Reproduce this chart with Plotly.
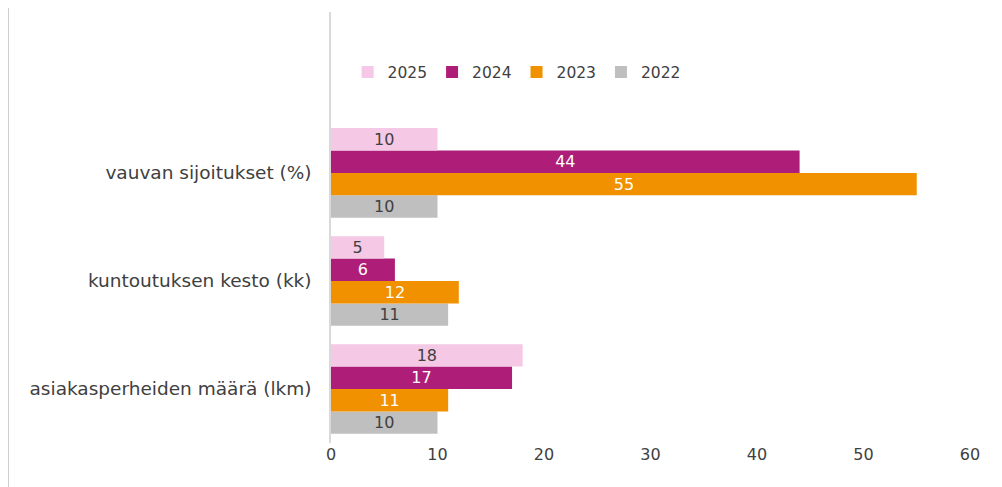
import plotly.graph_objects as go

categories = ["asiakasperheiden määrä (lkm)", "kuntoutuksen kesto (kk)", "vauvan sijoitukset (%)"]
years = ["2022", "2023", "2024", "2025"]
values = {
    "2022": [10, 11, 10],
    "2023": [11, 12, 55],
    "2024": [17, 6, 44],
    "2025": [18, 5, 10],
}
colors = {"2022": "#BFBFBF", "2023": "#F29100", "2024": "#AE1E78", "2025": "#F5C9E6"}
text_colors = {"2022": "#404040", "2023": "#FFFFFF", "2024": "#FFFFFF", "2025": "#404040"}
x_ticks = [0, 10, 20, 30, 40, 50, 60]

FONT = "DejaVu Sans, sans-serif"

fig = go.Figure()
for y in years:
    fig.add_trace(go.Bar(
        name=y,
        y=categories,
        x=values[y],
        orientation="h",
        marker=dict(color=colors[y], line=dict(width=0)),
        text=[str(v) for v in values[y]],
        textposition="inside",
        insidetextanchor="middle",
        constraintext="none",
        textangle=0,
        textfont=dict(family=FONT, size=16, color=text_colors[y]),
        hoverinfo="skip",
    ))

fig.update_layout(
    width=994, height=479,
    margin=dict(l=323, r=32, t=4, b=44),
    paper_bgcolor="white", plot_bgcolor="white",
    barmode="group", bargap=0.17, bargroupgap=0,
    font=dict(family=FONT, color="#404040", size=16),
    showlegend=True,
    legend=dict(orientation="h", traceorder="reversed", x=0.026, y=0.86,
                xanchor="left", yanchor="middle",
                font=dict(family=FONT, size=15.5, color="#404040"),
                itemwidth=30, bgcolor="rgba(0,0,0,0)"),
    xaxis=dict(range=[0, 60], tickvals=x_ticks, showgrid=False, zeroline=False,
               showline=False, ticks="", tickfont=dict(size=16, color="#404040"),
               fixedrange=True),
    yaxis=dict(range=[-0.5, 3.49], showgrid=False, zeroline=False,
               showline=True, linecolor="#D9D9D9", linewidth=1.5,
               ticks="", ticklabelstandoff=14,
               tickfont=dict(size=18.5, color="#404040")),
    shapes=[dict(type="line", xref="paper", yref="paper",
                 x0=(8 - 331) / 639, x1=(8 - 331) / 639, y0=-0.2, y1=1.05,
                 line=dict(color="#BFBFBF", width=1.5))],
)

fig.write_html("out.html")
